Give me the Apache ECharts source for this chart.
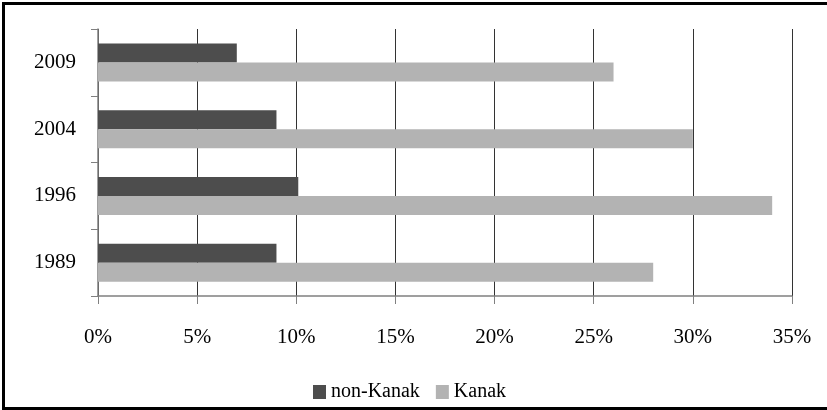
<!DOCTYPE html>
<html>
<head>
<meta charset="utf-8">
<script src="https://cdn.jsdelivr.net/npm/echarts@6/dist/echarts.min.js"></script>
<style>
  html, body { margin: 0; padding: 0; background: #fff; }
  #chart { position: absolute; left: 0; top: 0; width: 827px; height: 410px; }
  #frame {
    position: absolute; left: 2px; top: 2px; width: 840px; height: 402px;
    border-top: 3px solid #000; border-left: 3px solid #000; border-bottom: 3px solid #000;
    pointer-events: none;
  }
</style>
</head>
<body>
<div id="chart"></div>
<div id="frame"></div>
<script>
const years = ['1989', '1996', '2004', '2009']
const nonKanak = [9.0, 10.1, 9.0, 7.0]
const kanak = [28.0, 34.0, 30.0, 26.0]
const xTicks = { min: 0, max: 35, interval: 5 }

const font = '"Liberation Serif", "DejaVu Serif", serif'

const myChart = echarts.init(document.getElementById('chart'))
const option = {
  animation: false,
  color: ['#4d4d4d', '#b3b3b3'],
  textStyle: { fontFamily: font },
  grid: { left: 98, right: 35, top: 29, bottom: 114 },
  legend: {
    data: ['non-Kanak', 'Kanak'],
    left: 308,
    top: 377,
    icon: 'rect',
    itemWidth: 13,
    itemHeight: 14,
    itemGap: 16,
    textStyle: { fontFamily: font, fontSize: 20, color: '#000' },
  },
  xAxis: {
    type: 'value',
    min: xTicks.min,
    max: xTicks.max,
    interval: xTicks.interval,
    axisLine: { show: true, lineStyle: { color: '#808080', width: 1.5 } },
    axisTick: { show: true, length: 8, lineStyle: { color: '#808080' } },
    axisLabel: {
      margin: 31,
      fontSize: 21,
      fontFamily: font,
      color: '#000',
      formatter: '{value}%',
    },
    splitLine: { show: true, lineStyle: { color: '#333', width: 1 } },
  },
  yAxis: {
    type: 'category',
    data: years,
    axisLine: { show: true, lineStyle: { color: '#808080', width: 1.5 } },
    axisTick: { show: true, length: 7, lineStyle: { color: '#808080' } },
    axisLabel: { margin: 22, fontSize: 21, fontFamily: font, color: '#000' },
  },
  series: [
    {
      name: 'non-Kanak',
      type: 'bar',
      barWidth: 19,
      barGap: '0%',
      data: nonKanak,
    },
    {
      name: 'Kanak',
      type: 'bar',
      barWidth: 19,
      barGap: '0%',
      data: kanak,
    },
  ],
}
myChart.setOption(option)
window.addEventListener('resize', () => {
  myChart.resize()
})
</script>
</body>
</html>
